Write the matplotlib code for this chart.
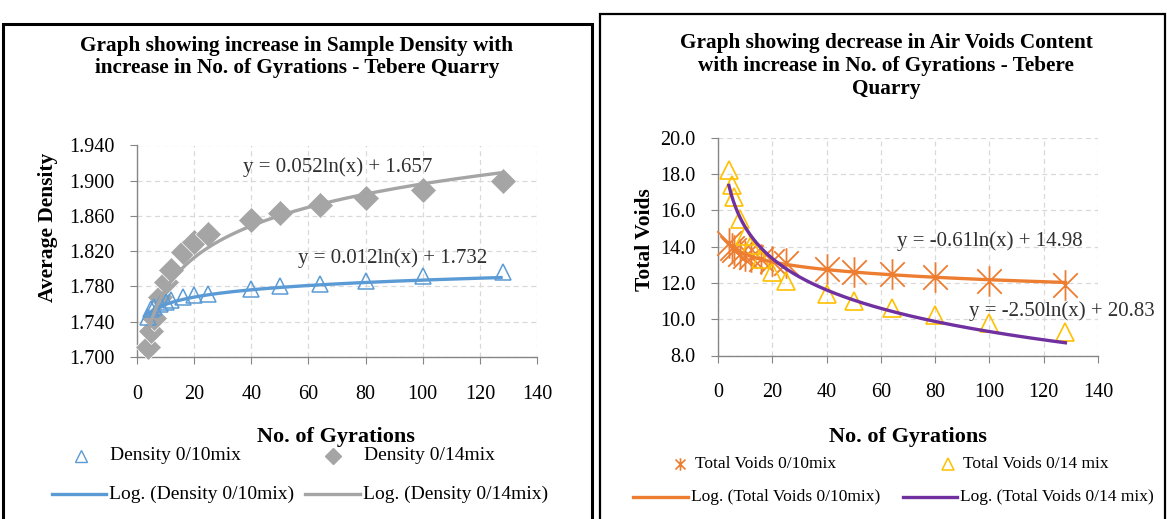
import numpy as np
import matplotlib
matplotlib.use("Agg")
import matplotlib.pyplot as plt
from matplotlib.patches import Rectangle
from matplotlib.lines import Line2D
from matplotlib.path import Path

plt.rcParams['font.family'] = ['Liberation Serif', 'DejaVu Serif']

# ---------------- data ----------------
gyrations = [4, 5, 6, 8, 10, 12, 16, 20, 25, 40, 50, 64, 80, 100, 128]

density_0_10 = [1.745, 1.755, 1.757, 1.760, 1.762, 1.765, 1.768, 1.770, 1.771,
                1.777, 1.780, 1.783, 1.786, 1.792, 1.796]
density_0_14 = [1.711, 1.729, 1.744, 1.768, 1.785, 1.799, 1.819, 1.830, 1.840,
                1.855, 1.863, 1.872, 1.880, 1.890, 1.900]

voids_0_10 = [14.2, 13.9, 13.8, 13.6, 13.5, 13.4, 13.3, 13.2, 13.1,
              12.76, 12.62, 12.49, 12.34, 12.12, 11.88]
voids_0_14 = [18.2, 17.4, 16.7, 15.5, 14.6, 14.1, 13.3, 12.6, 12.1,
              11.37, 11.02, 10.6, 10.23, 9.78, 9.28]

# trendline coefficients shown on the chart: y = a*ln(x) + b
trend_density_0_10 = (0.012, 1.732)
trend_density_0_14 = (0.052, 1.657)
trend_voids_0_10 = (-0.61, 14.98)
trend_voids_0_14 = (-2.50, 20.83)

eq_density_0_10 = "y = 0.012ln(x) + 1.732"
eq_density_0_14 = "y = 0.052ln(x) + 1.657"
eq_voids_0_10 = "y = -0.61ln(x) + 14.98"
eq_voids_0_14 = "y = -2.50ln(x) + 20.83"

x_ticks = [0, 20, 40, 60, 80, 100, 120, 140]
density_ticks = [1.700, 1.740, 1.780, 1.820, 1.860, 1.900, 1.940]
voids_ticks = [8.0, 10.0, 12.0, 14.0, 16.0, 18.0, 20.0]

# ---------------- styling ----------------
BLUE = '#5B9BD5'
GREY = '#A5A5A5'
ORANGE = '#ED7D31'
YELLOW = '#FFC000'
PURPLE = '#7030A0'
AXIS = '#868686'
GRID = '#D9D9D9'
EQ = '#303030'

# Excel-style star marker: vertical bar plus an X
STAR = Path([(0, -1), (0, 1), (-0.8, -0.8), (0.8, 0.8), (-0.8, 0.8), (0.8, -0.8)],
            [Path.MOVETO, Path.LINETO, Path.MOVETO, Path.LINETO,
             Path.MOVETO, Path.LINETO])

W, H = 1167, 519
fig = plt.figure(figsize=(W / 100, H / 100), dpi=100)


def fx(px):
    return px / W


def fy(py):
    return 1 - py / H


def style_axes(ax, yticks, fmt):
    ax.set_xlim(0, 140)
    ax.set_xticks(x_ticks)
    ax.set_yticks(yticks)
    ax.set_ylim(yticks[0], yticks[-1])
    ax.set_yticklabels([fmt.format(v) for v in yticks])
    for s in ['top', 'right']:
        ax.spines[s].set_visible(False)
    for s in ['left', 'bottom']:
        ax.spines[s].set_color(AXIS)
        ax.spines[s].set_linewidth(1.0)
    ax.grid(True, color=GRID, linestyle=(0, (4, 3)), linewidth=0.9)
    ax.set_axisbelow(True)
    ax.tick_params(axis='both', direction='out', length=5, color=AXIS,
                   labelsize=14.5, labelcolor='black')
    ax.tick_params(axis='x', pad=15)
    ax.tick_params(axis='y', pad=11)


# ---------------- left chart ----------------
axL = fig.add_axes([fx(137), fy(357), fx(537) - fx(137), fy(145.5) - fy(357)])
style_axes(axL, density_ticks, '{:.3f}')
xfit = np.linspace(min(gyrations), max(gyrations), 300)

axL.plot(gyrations, density_0_14, linestyle='none', marker='D', markersize=13,
         color=GREY, markeredgecolor='white', markeredgewidth=0.5, zorder=3,
         clip_on=False)
axL.plot(gyrations, density_0_10, linestyle='none', marker='^', markersize=11.5,
         markerfacecolor='none', markeredgecolor=BLUE, markeredgewidth=1.1,
         zorder=3, clip_on=False)
axL.plot(xfit, trend_density_0_10[0] * np.log(xfit) + trend_density_0_10[1],
         color=BLUE, lw=2.4, zorder=4, solid_capstyle='butt')
axL.plot(xfit, trend_density_0_14[0] * np.log(xfit) + trend_density_0_14[1],
         color=GREY, lw=2.4, zorder=4, solid_capstyle='butt')

fig.text(fx(338), fy(167), eq_density_0_14, fontsize=15, ha='center', va='center',
         color=EQ)
fig.text(fx(393), fy(258), eq_density_0_10, fontsize=15, ha='center', va='center',
         color=EQ)

fig.text(fx(48), fy(227), 'Average Density', rotation=90, fontsize=15.5,
         fontweight='bold', ha='center', va='center')
fig.text(fx(336), fy(437), 'No. of Gyrations', fontsize=16, fontweight='bold',
         ha='center', va='center')
fig.text(fx(297), fy(57), 'Graph showing increase in Sample Density with\n'
         'increase in No. of Gyrations - Tebere Quarry', fontsize=15.3,
         fontweight='bold', ha='center', va='center', linespacing=1.2)

# left legend (manual layout)
fig.add_artist(Line2D([fx(81)], [fy(456)], marker='^', markersize=9,
                      markerfacecolor='none', markeredgecolor=BLUE,
                      markeredgewidth=1.0, linestyle='none'))
fig.text(fx(110), fy(456), 'Density 0/10mix', fontsize=14, va='center')
fig.add_artist(Line2D([fx(333)], [fy(456)], marker='D', markersize=8,
                      color=GREY, linestyle='none'))
fig.text(fx(364), fy(456), 'Density 0/14mix', fontsize=14, va='center')
fig.add_artist(Line2D([fx(52), fx(106)], [fy(494), fy(494)], color=BLUE, lw=2.4))
fig.text(fx(109), fy(494), 'Log. (Density 0/10mix)', fontsize=14, va='center')
fig.add_artist(Line2D([fx(305), fx(360)], [fy(494), fy(494)], color=GREY, lw=2.4))
fig.text(fx(363), fy(494), 'Log. (Density 0/14mix)', fontsize=14, va='center')

# ---------------- right chart ----------------
axR = fig.add_axes([fx(718), fy(355.5), fx(1098) - fx(718), fy(137.5) - fy(355.5)])
style_axes(axR, voids_ticks, '{:.1f}')

axR.plot(gyrations, voids_0_10, linestyle='none', marker=STAR, markersize=22,
         markeredgecolor=ORANGE, markerfacecolor='none', markeredgewidth=1.3,
         zorder=3, clip_on=False)
axR.plot(gyrations, voids_0_14, linestyle='none', marker='^', markersize=13,
         markerfacecolor='none', markeredgecolor=YELLOW, markeredgewidth=1.2,
         zorder=3, clip_on=False)
axR.plot(xfit, trend_voids_0_10[0] * np.log(xfit) + trend_voids_0_10[1],
         color=ORANGE, lw=2.4, zorder=4)
axR.plot(xfit, trend_voids_0_14[0] * np.log(xfit) + trend_voids_0_14[1],
         color=PURPLE, lw=2.4, zorder=4)

fig.text(fx(990), fy(241), eq_voids_0_10, fontsize=15, ha='center', va='center',
         color=EQ)
fig.text(fx(1062), fy(311), eq_voids_0_14, fontsize=15, ha='center', va='center',
         color=EQ)

fig.text(fx(645), fy(240), 'Total Voids', rotation=90, fontsize=15.5,
         fontweight='bold', ha='center', va='center')
fig.text(fx(908), fy(437), 'No. of Gyrations', fontsize=16, fontweight='bold',
         ha='center', va='center')
fig.text(fx(886), fy(66), 'Graph showing decrease in Air Voids Content\n'
         'with increase in No. of Gyrations - Tebere\nQuarry', fontsize=15.3,
         fontweight='bold', ha='center', va='center', linespacing=1.18)

# right legend
fig.add_artist(Line2D([fx(680)], [fy(464)], marker=STAR, markersize=9,
                      markeredgecolor=ORANGE, markerfacecolor='none',
                      markeredgewidth=1.2, linestyle='none'))
fig.text(fx(695), fy(464), 'Total Voids 0/10mix', fontsize=12.5, va='center')
fig.add_artist(Line2D([fx(948)], [fy(464)], marker='^', markersize=8,
                      markerfacecolor='none', markeredgecolor=YELLOW,
                      markeredgewidth=1.1, linestyle='none'))
fig.text(fx(963), fy(464), 'Total Voids 0/14 mix', fontsize=12.5, va='center')
fig.add_artist(Line2D([fx(633), fx(688)], [fy(497), fy(497)], color=ORANGE, lw=2.4))
fig.text(fx(691), fy(497), 'Log. (Total Voids 0/10mix)', fontsize=12.5, va='center')
fig.add_artist(Line2D([fx(903), fx(957)], [fy(497), fy(497)], color=PURPLE, lw=2.4))
fig.text(fx(960), fy(497), 'Log. (Total Voids 0/14 mix)', fontsize=12.5, va='center')

# ---------------- panel borders ----------------
fig.add_artist(Rectangle((fx(3), -0.02), fx(592) - fx(3), fy(24) + 0.02,
                         fill=False, edgecolor='black', lw=2.2))
fig.add_artist(Rectangle((fx(600), -0.02), fx(1165) - fx(600), fy(14) + 0.02,
                         fill=False, edgecolor='black', lw=1.6))

fig.savefig('out.png', dpi=100)
